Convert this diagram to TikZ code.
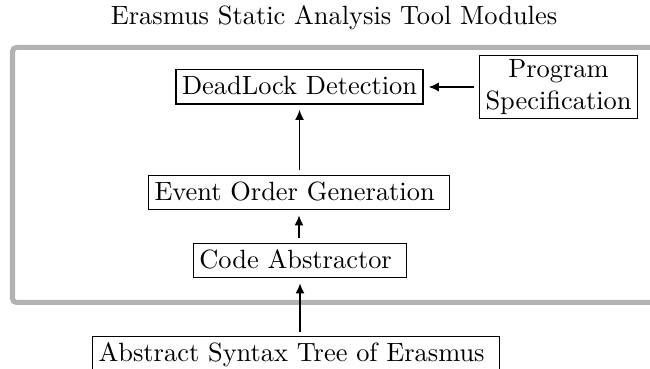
\documentclass[tikz,border=0pt]{standalone}
\usetikzlibrary{arrows.meta}
\begin{document}
\begin{tikzpicture}[x=0.3788pt,y=-0.3788pt,
  modbox/.style={draw,line width=0.5pt,inner xsep=2.3pt,inner ysep=2.5pt,text height=7pt,text depth=1pt},
  flow/.style={-{Latex[length=3.8pt,width=3.4pt]},line width=0.5pt,shorten >=1.9pt,shorten <=1.7pt}]
\useasboundingbox (0,0) rectangle (650,369);
\node (title) at (334,18) {Erasmus Static Analysis Tool Modules};
\draw[line width=1.9pt,color=gray!60,rounded corners=1.5pt] (12.5,47.5) rectangle (668,302.5);
\node[modbox] (dead) at (299.5,87) {DeadLock Detection};
\node[draw,line width=0.5pt,align=center,inner xsep=2.3pt,inner ysep=1.6pt] (spec) at (558.5,87) {Program\\Specification};
\node[modbox] (event) at (299,192.5) {Event Order Generation\kern3.33pt};
\node[modbox] (code) at (300,260.5) {Code Abstractor\kern3.33pt};
\node[modbox] (ast) at (296,354) {Abstract Syntax Tree of Erasmus\kern3.33pt};
\draw[flow] (spec.west |- dead.east) -- (dead.east);
\draw[flow] (event.north -| dead.south) -- (dead.south);
\draw[flow] (code.north -| event.south) -- (event.south);
\draw[flow] (ast.north -| code.south) -- (code.south);
\end{tikzpicture}
\end{document}
